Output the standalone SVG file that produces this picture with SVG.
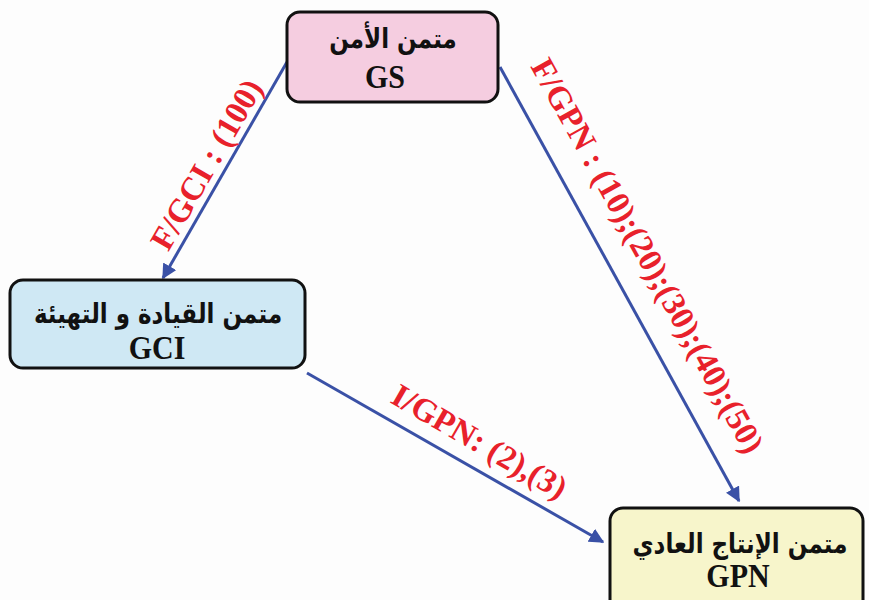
<svg xmlns="http://www.w3.org/2000/svg" width="869" height="600" viewBox="0 0 869 600">
<defs>
<marker id="ah" viewBox="0 0 10 10" refX="9" refY="5" markerWidth="5" markerHeight="5" orient="auto" markerUnits="strokeWidth">
<path d="M0,0 L10,5 L0,10 z" fill="#3a51a6"/>
</marker>
<style>
.box{stroke:#111;stroke-width:3}
.ar{font-family:"DejaVu Sans",sans-serif;font-weight:bold;font-size:23px;fill:#111;text-anchor:middle}
.la{font-family:"Liberation Serif",serif;font-weight:bold;font-size:30px;fill:#111;text-anchor:middle}
.lbl{font-family:"Liberation Serif",serif;font-weight:bold;font-size:33px;fill:#e8212b;text-anchor:middle}
.con{stroke:#3a51a6;stroke-width:3;fill:none;marker-end:url(#ah)}
</style>
</defs>
<rect width="869" height="600" fill="#fdfdfd"/>
<g id="connectors">
<line class="con" x1="287" y1="62" x2="163" y2="278"/>
<line class="con" x1="500" y1="67" x2="739" y2="501"/>
<line class="con" x1="307" y1="373" x2="603" y2="542"/>
<text class="lbl" transform="translate(216,170) rotate(-60)">F/GCI : (100)</text>
<text class="lbl" transform="translate(638,261) rotate(61)">F/GPN : (10);(20);(30);(40);(50)</text>
<text class="lbl" transform="translate(474,451) rotate(30)">I/GPN: (2),(3)</text>
</g>
<g id="GS">
<rect class="box" x="287" y="12" width="211" height="90" rx="13" fill="#f5cde0"/>
<text class="ar" transform="translate(393,48) scale(1,1.2)" direction="rtl">متمن الأمن</text>
<text class="la" transform="translate(385,88) scale(1,1.15)">GS</text>
</g>
<g id="GCI">
<rect class="box" x="10" y="280" width="295" height="88" rx="13" fill="#cfe8f4"/>
<text class="ar" transform="translate(158,323) scale(1,1.2)" direction="rtl">متمن القيادة و التهيئة</text>
<text class="la" transform="translate(157,359) scale(1,1.15)">GCI</text>
</g>
<g id="GPN">
<rect class="box" x="610" y="508" width="253" height="110" rx="13" fill="#f7f5cb"/>
<text class="ar" transform="translate(740,553) scale(1,1.2)" direction="rtl">متمن الإنتاج العادي</text>
<text class="la" transform="translate(738,587) scale(1,1.15)">GPN</text>
</g>
</svg>
